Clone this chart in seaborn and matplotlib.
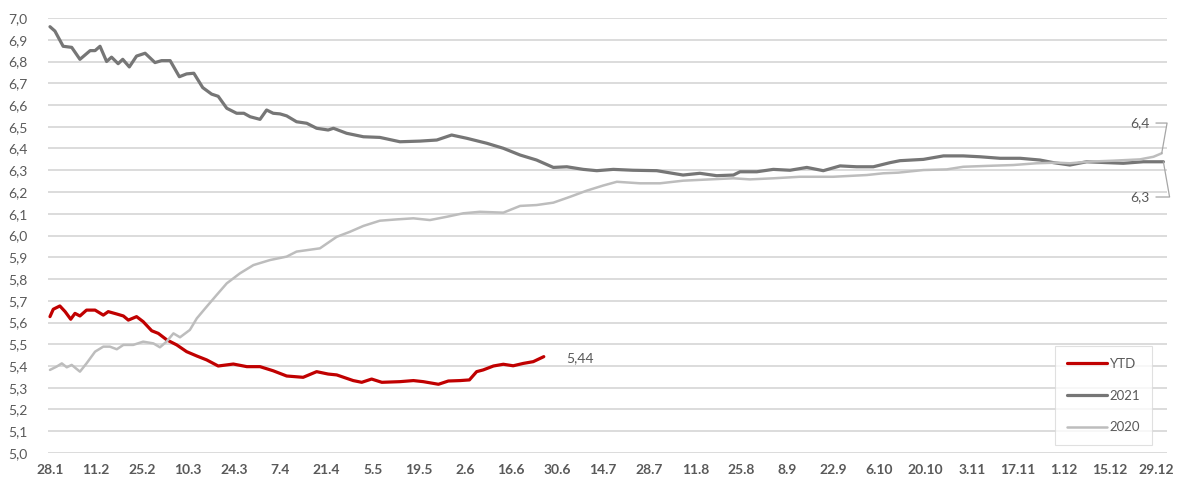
import matplotlib
matplotlib.use("Agg")
import matplotlib.pyplot as plt
import seaborn as sns
import numpy as np

# ---- data (day offsets from 28.1, values) ----
ytd_days = [0, 1, 3, 4.6, 6.3, 7.6, 9.1, 11.1, 13.7, 16.2, 17.7, 20.3, 22.3, 23.8, 26.3, 28.3,
            30.9, 32.9, 35.5, 38.5, 41.5, 44.6, 47.6, 51.1, 55.7, 59.8, 63.8, 67.8, 71.9, 76.9,
            81, 84.5, 87.1, 92.1, 94.7, 97.7, 100.8, 106.3, 110.4, 113.4, 118, 121, 124.6, 127.4,
            129.6, 131.6, 134.7, 137.7, 140.7, 143.8, 146.8, 150]
ytd_vals = [5.627, 5.661, 5.676, 5.65, 5.615, 5.642, 5.63, 5.657, 5.657, 5.634, 5.65, 5.639, 5.63,
            5.611, 5.627, 5.604, 5.562, 5.55, 5.52, 5.497, 5.466, 5.446, 5.428, 5.40, 5.409, 5.397,
            5.397, 5.378, 5.354, 5.348, 5.374, 5.363, 5.359, 5.333, 5.325, 5.34, 5.325, 5.328,
            5.333, 5.328, 5.316, 5.331, 5.333, 5.336, 5.374, 5.382, 5.40, 5.408, 5.401, 5.412,
            5.42, 5.443]

y2021_days = [0, 1.5, 4, 6.6, 9.1, 12.2, 13.7, 15.2, 17.2, 18.7, 20.7, 22.1, 24.1, 26.3, 28.9,
              31.9, 33.9, 36.5, 39.3, 41.5, 43.7, 46.4, 49.1, 51.1, 53.7, 56.7, 58.9, 60.8, 63.8,
              65.8, 67.8, 69.9, 71.9, 74.9, 78, 81, 84.5, 86.1, 90.1, 95.2, 100.2, 106.3, 112.4,
              117.5, 122, 126.6, 132.7, 137.7, 142.8, 147.8, 152.9, 157, 162, 166.1, 171.1, 177.1,
              184.3, 192.3, 197.4, 202.5, 207.6, 209.6, 214.7, 219.7, 224.8, 229.9, 234.9, 240,
              245, 250.1, 255.2, 258.2, 265.3, 271.4, 277.4, 282.5, 288.6, 294.7, 300.7, 304.8,
              309.8, 314.9, 321, 326, 332.1, 338.2]
y2021_vals = [6.96, 6.94, 6.87, 6.865, 6.81, 6.85, 6.85, 6.87, 6.80, 6.82, 6.79, 6.81, 6.775,
              6.825, 6.838, 6.795, 6.804, 6.804, 6.73, 6.743, 6.746, 6.68, 6.65, 6.64, 6.585,
              6.562, 6.562, 6.546, 6.534, 6.577, 6.562, 6.559, 6.55, 6.523, 6.516, 6.493, 6.485,
              6.493, 6.47, 6.454, 6.451, 6.431, 6.434, 6.439, 6.462, 6.447, 6.424, 6.401, 6.37,
              6.347, 6.313, 6.316, 6.304, 6.298, 6.304, 6.30, 6.298, 6.278, 6.286, 6.275, 6.278,
              6.293, 6.293, 6.304, 6.30, 6.313, 6.298, 6.32, 6.316, 6.316, 6.335, 6.344, 6.35,
              6.366, 6.366, 6.362, 6.355, 6.355, 6.347, 6.335, 6.324, 6.339, 6.335, 6.332, 6.339,
              6.339]

y2020_days = [0, 2, 3.6, 5.1, 6.6, 9.1, 11.1, 13.7, 16.2, 18.2, 20.3, 22.3, 25.3, 28.3, 31.4,
              33.4, 35.4, 37.5, 39.5, 42.5, 44.6, 47.6, 50.6, 53.7, 57.7, 61.8, 66.8, 71.9, 74.9,
              82, 87.1, 91.1, 95.2, 100.2, 105.3, 110.4, 115.4, 120.5, 125.5, 130.6, 137.7, 142.8,
              147.8, 152.9, 158, 163, 168.1, 172.2, 179.2, 185.3, 192.3, 200.5, 207.6, 212.6,
              219.7, 227.8, 237.9, 248.1, 253.1, 257.7, 265.3, 272.4, 277.4, 284.5, 292.6, 299.6,
              305.8, 309.8, 314.9, 323, 331.1, 335.2, 337.7]
y2020_vals = [5.382, 5.397, 5.412, 5.394, 5.405, 5.374, 5.412, 5.466, 5.489, 5.489, 5.477, 5.497,
              5.497, 5.512, 5.504, 5.486, 5.512, 5.55, 5.532, 5.566, 5.619, 5.673, 5.726, 5.78,
              5.826, 5.864, 5.887, 5.903, 5.926, 5.941, 5.994, 6.017, 6.044, 6.068, 6.074, 6.079,
              6.071, 6.086, 6.102, 6.109, 6.105, 6.136, 6.14, 6.151, 6.178, 6.206, 6.23, 6.247,
              6.24, 6.24, 6.252, 6.258, 6.263, 6.258, 6.263, 6.27, 6.27, 6.278, 6.286, 6.289,
              6.301, 6.304, 6.316, 6.32, 6.324, 6.332, 6.335, 6.332, 6.339, 6.344, 6.35, 6.362,
              6.378]

x_tick_labels = ["28.1", "11.2", "25.2", "10.3", "24.3", "7.4", "21.4", "5.5", "19.5", "2.6",
                 "16.6", "30.6", "14.7", "28.7", "11.8", "25.8", "8.9", "22.9", "6.10", "20.10",
                 "3.11", "17.11", "1.12", "15.12", "29.12"]
y_ticks = [5.0, 5.1, 5.2, 5.3, 5.4, 5.5, 5.6, 5.7, 5.8, 5.9, 6.0, 6.1, 6.2, 6.3, 6.4, 6.5,
           6.6, 6.7, 6.8, 6.9, 7.0]

series_names = ["YTD", "2021", "2020"]
colors = {"YTD": "#C00000", "2021": "#767676", "2020": "#BDBDBD"}
widths = {"YTD": 2.3, "2021": 2.3, "2020": 1.8}

sns.set_theme(style="white")
plt.rcParams["font.family"] = ["Lato", "DejaVu Sans"]
text_color = "#595959"

fig = plt.figure(figsize=(11.83, 4.84), dpi=100)
ax = fig.add_axes([48 / 1183, 1 - 453 / 484, (1167 - 48) / 1183, 435 / 484])

data = {"YTD": (ytd_days, ytd_vals), "2021": (y2021_days, y2021_vals), "2020": (y2020_days, y2020_vals)}
for name in series_names:
    d, v = data[name]
    sns.lineplot(x=d, y=v, ax=ax, color=colors[name], linewidth=widths[name], label=name,
                 solid_capstyle="round", solid_joinstyle="round")

ax.set_xlim(-0.6, 339.3)
ax.set_ylim(5.0, 7.0)
tick_pos = [14 * i for i in range(len(x_tick_labels))]
ax.set_xticks(tick_pos)
ax.set_xticklabels(x_tick_labels)
ax.set_yticks(y_ticks)
ax.set_yticklabels([f"{t:.1f}".replace(".", ",") for t in y_ticks])
ax.tick_params(axis="both", length=0, labelsize=10, colors=text_color)
ax.tick_params(axis="y", pad=15)
ax.tick_params(axis="x", pad=8)
for lab in ax.get_xticklabels():
    lab.set_fontweight("bold")
for s in ax.spines.values():
    s.set_visible(False)
ax.grid(axis="y", color="#D9D9D9", linewidth=1.3)
ax.grid(axis="x", visible=False)
ax.set_axisbelow(True)

# annotations
ax.annotate("5,44", xy=(ytd_days[-1], ytd_vals[-1]), xytext=(16, -1), textcoords="offset points",
            ha="left", va="center", fontsize=10, color=text_color)
ax.annotate("6,4", xy=(y2020_days[-1], y2020_vals[-1]), xytext=(334.1, 6.517),
            ha="right", va="center", fontsize=10, color=text_color,
            arrowprops=dict(arrowstyle="-", color="#A6A6A6", lw=0.9, shrinkA=2, shrinkB=0,
                            connectionstyle="angle,angleA=0,angleB=80,rad=0"))
ax.annotate("6,3", xy=(y2021_days[-1], y2021_vals[-1]), xytext=(334.1, 6.177),
            ha="right", va="center", fontsize=10, color=text_color,
            arrowprops=dict(arrowstyle="-", color="#A6A6A6", lw=0.9, shrinkA=2, shrinkB=0,
                            connectionstyle="angle,angleA=0,angleB=-80,rad=0"))

leg = ax.legend(loc="lower right", bbox_to_anchor=(0.9866, 0.018), frameon=True, fancybox=False,
                fontsize=9.5, handlelength=3.0, handletextpad=0.2, labelspacing=1.5,
                borderpad=0.9, borderaxespad=0)
leg.get_frame().set_edgecolor("#D9D9D9")
leg.get_frame().set_linewidth(0.8)
for t in leg.get_texts():
    t.set_color(text_color)

fig.savefig("out.png", dpi=100)
